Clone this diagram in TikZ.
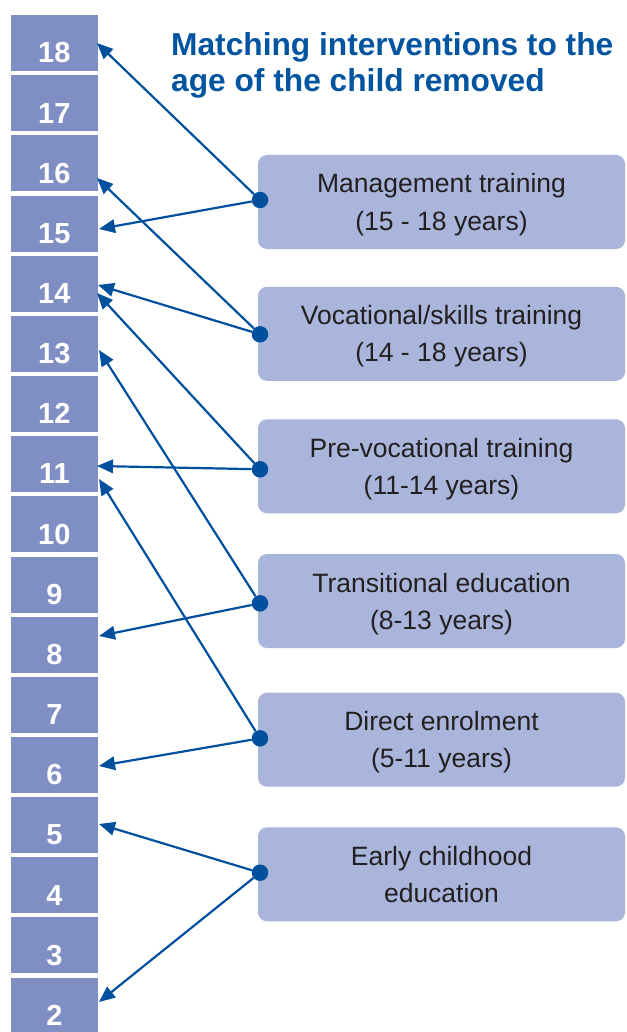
\documentclass[tikz,border=0pt]{standalone}
\usepackage{fontspec}
\setmainfont{Liberation Sans}
\usetikzlibrary{arrows.meta}
\definecolor{colblue}{RGB}{127,143,196}
\definecolor{boxblue}{RGB}{169,181,218}
\definecolor{arrblue}{RGB}{0,80,158}
\definecolor{titleblue}{RGB}{0,84,160}
\definecolor{txtgray}{RGB}{35,31,32}
\begin{document}
\begin{tikzpicture}[x=1pt,y=-1pt,
  agebox/.style={fill=colblue, minimum width=86.7pt, minimum height=56pt, inner sep=0pt,
    text=white, font=\fontsize{29}{29}\selectfont\bfseries, text height=39.4pt, text depth=0pt, anchor=north},
  ivbox/.style={fill=boxblue, rounded corners=9pt, minimum width=367pt, minimum height=94pt,
    inner sep=0pt, align=center, text=txtgray, font=\fontsize{26.5}{37}\selectfont,
    text height=56pt, text depth=0pt},
  dotnode/.style={circle, fill=arrblue, inner sep=0pt, minimum size=16.5pt},
  arr/.style={draw=arrblue, line width=2.2pt, -{Triangle[length=16pt,width=13.5pt]}},
  titletext/.style={anchor=base west, align=left, text=titleblue,
    font=\fontsize{31.7}{36}\selectfont\bfseries, inner sep=0pt}
]
\path[use as bounding box, fill=white] (0,0) rectangle (626,1032);
\begin{scope}
\clip (0,0) rectangle (626,1032);
% age column
\foreach \k in {18,17,...,2}{
  \node[agebox] (c\k) at (54.35,{15+(18-\k)*60.15}) {\k};
}
\end{scope}
% title
\node[titletext] (title) at (171,92) {Matching interventions to the\\age of the child removed};
% intervention boxes
\node[ivbox] (mgmt)   at (441.5,202)   {Management training\\(15 - 18 years)};
\node[ivbox] (voc)    at (441.5,333.8) {Vocational/skills training\\(14 - 18 years)};
\node[ivbox] (prevoc) at (441.5,466.3) {Pre-vocational training\\(11-14 years)};
\node[ivbox] (trans)  at (441.5,601)   {Transitional education\\(8-13 years)};
\node[ivbox] (direct) at (441.5,739.7) {Direct enrolment\\(5-11 years)};
\node[ivbox] (early)  at (441.5,874.3) {Early childhood\\education};
% dots
\node[dotnode] (dmgmt)   at (260,200)   {};
\node[dotnode] (dvoc)    at (260,334.3) {};
\node[dotnode] (dprevoc) at (260,469.3) {};
\node[dotnode] (dtrans)  at (260,603.3) {};
\node[dotnode] (ddirect) at (260,738.3) {};
\node[dotnode] (dearly)  at (260,872.7) {};
% arrow targets
\coordinate (t18)  at (97,43);
\coordinate (t16)  at (97,178);
\coordinate (t15)  at (99,229);
\coordinate (t14a) at (98,285);
\coordinate (t14b) at (97,293);
\coordinate (t13)  at (99,350);
\coordinate (t11a) at (97,466);
\coordinate (t11b) at (99,479);
\coordinate (t8)   at (99,636);
\coordinate (t6)   at (99,766);
\coordinate (t5)   at (99,824);
\coordinate (t2)   at (99,1002);
% connectors
\draw[arr] (dmgmt) -- (t18);
\draw[arr] (dmgmt) -- (t15);
\draw[arr] (dvoc) -- (t16);
\draw[arr] (dvoc) -- (t14a);
\draw[arr] (dprevoc) -- (t14b);
\draw[arr] (dprevoc) -- (t11a);
\draw[arr] (dtrans) -- (t13);
\draw[arr] (dtrans) -- (t8);
\draw[arr] (ddirect) -- (t11b);
\draw[arr] (ddirect) -- (t6);
\draw[arr] (dearly) -- (t5);
\draw[arr] (dearly) -- (t2);
\end{tikzpicture}
\end{document}
